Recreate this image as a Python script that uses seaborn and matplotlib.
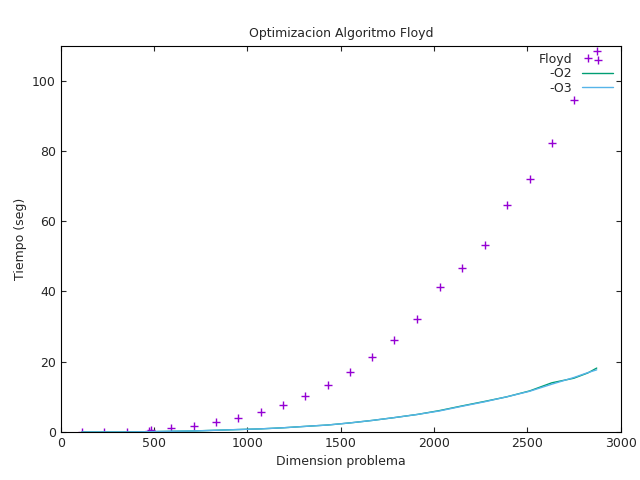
import matplotlib
matplotlib.use("Agg")
import matplotlib.pyplot as plt
import seaborn as sns
import pandas as pd

sizes = [113, 231, 354, 472, 483, 590, 714, 832, 950, 1073, 1191, 1309, 1432, 1551, 1669,
         1787, 1910, 2029, 2147, 2270, 2388, 2512, 2630, 2748, 2823, 2871]
floyd = [0.0, 0.0, 0.1, 0.3, 0.6, 1.1, 1.7, 2.8, 4.0, 5.7, 7.7, 10.3, 13.4, 17.1, 21.4,
         26.2, 32.2, 41.3, 46.7, 53.3, 64.7, 72.0, 82.3, 94.6, 106.6, 108.5]
o2 = [0.0, 0.0, 0.0, 0.1, 0.1, 0.2, 0.3, 0.5, 0.7, 0.9, 1.2, 1.6, 2.0, 2.6, 3.3,
      4.1, 5.0, 6.1, 7.4, 8.7, 10.0, 11.7, 14.0, 15.3, 16.8, 18.2]
o3 = [0.0, 0.0, 0.0, 0.1, 0.1, 0.2, 0.3, 0.5, 0.7, 0.9, 1.2, 1.6, 2.0, 2.6, 3.3,
      4.1, 5.0, 6.0, 7.3, 8.6, 10.0, 11.6, 13.6, 15.5, 16.9, 17.7]

df = pd.DataFrame({"n": sizes, "floyd": floyd, "o2": o2, "o3": o3})

sns.set_style("ticks")
fig, ax = plt.subplots(figsize=(6.4, 4.8), dpi=100)
sns.scatterplot(data=df, x="n", y="floyd", marker="+", s=40, color="#9400d3",
                linewidth=1, ax=ax, label="Floyd")
sns.lineplot(data=df, x="n", y="o2", color="#009e73", linewidth=1, ax=ax, label="-O2")
sns.lineplot(data=df, x="n", y="o3", color="#56b4e9", linewidth=1, ax=ax, label="-O3")

ax.set_xlim(0, 3000)
ax.set_ylim(0, 110)
ax.set_yticks([0, 20, 40, 60, 80, 100])
ax.set_xlabel("Dimension problema", fontsize=9)
ax.set_ylabel("Tiempo (seg)", fontsize=9)
ax.set_title("Optimizacion Algoritmo Floyd", fontsize=9)
ax.tick_params(direction="in", top=True, right=True, labelsize=9)
for s in ax.spines.values():
    s.set_visible(True)
    s.set_color("black")
ax.legend(loc="upper right", frameon=False, markerfirst=False, fontsize=9,
          handlelength=2.5, borderaxespad=0.2, labelspacing=0.1)
fig.subplots_adjust(left=0.095, right=0.97, top=0.905, bottom=0.1)
fig.savefig("out.png", dpi=100)
